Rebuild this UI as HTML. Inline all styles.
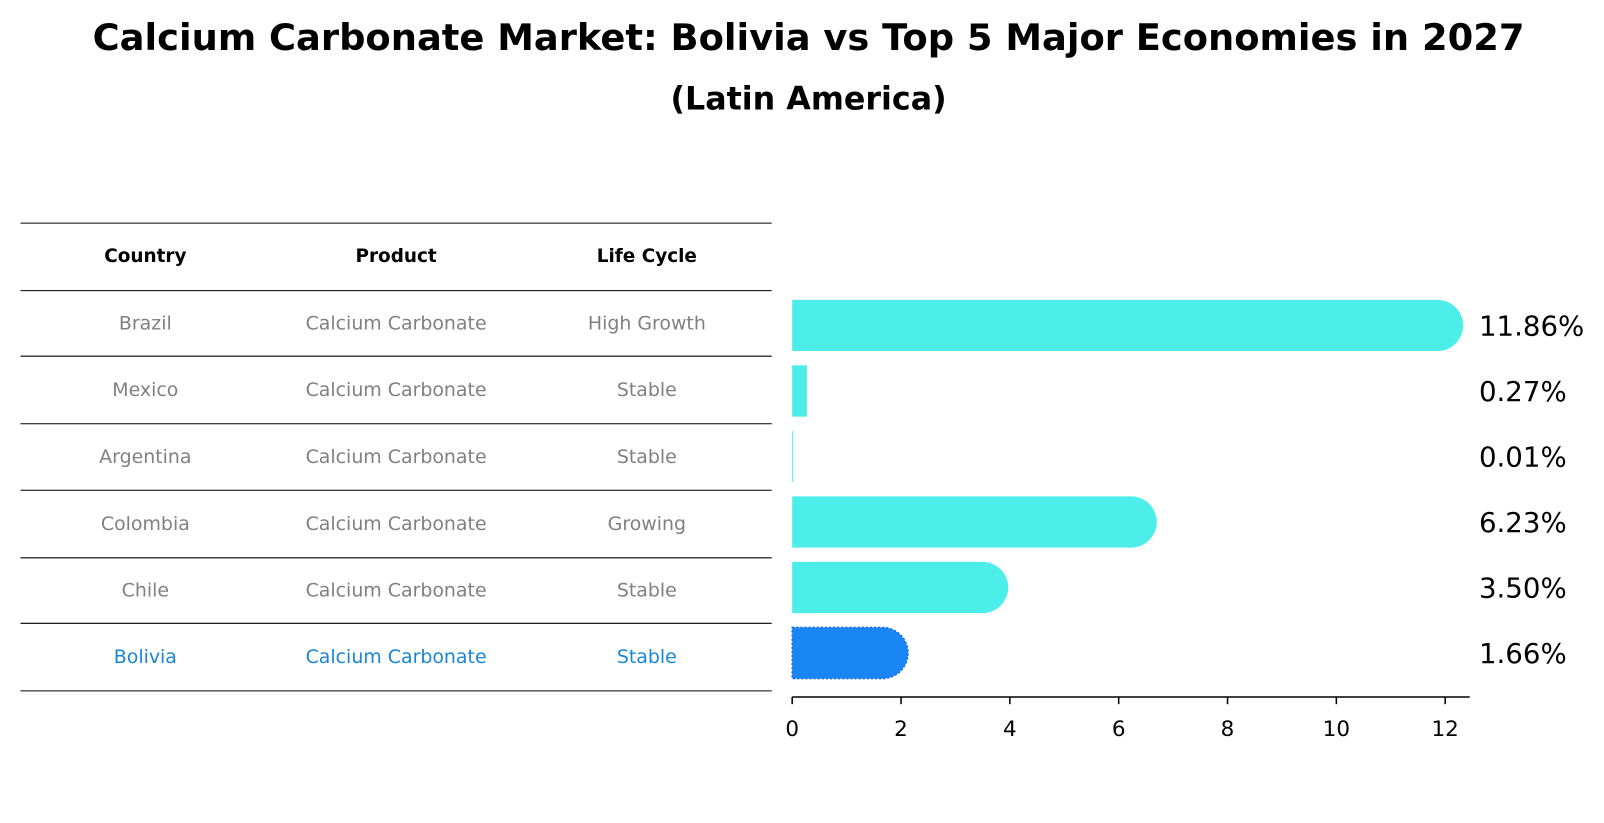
<!DOCTYPE html>
<html><head><meta charset="utf-8"><style>
body{margin:0;background:#fff;font-family:"Liberation Sans","DejaVu Sans",sans-serif}
#wrap{position:relative;width:1604px;height:823px;overflow:hidden}
</style></head><body>
<div id="wrap">
<svg id="svg" width="1604" height="823" font-family="DejaVu Sans, Liberation Sans, sans-serif">
<g transform="scale(1.0235)">
<text x="790" y="49" text-anchor="middle" font-size="36" font-weight="bold">Calcium Carbonate Market: Bolivia vs Top 5 Major Economies in 2027</text>
<text x="790" y="107" text-anchor="middle" font-size="31" font-weight="bold">(Latin America)</text>
<g id="table"></g>
<g id="bars"></g>
</g>
</svg>
</div>
<script>
const countries=["Brazil","Mexico","Argentina","Colombia","Chile","Bolivia"];
const products=["Calcium Carbonate","Calcium Carbonate","Calcium Carbonate","Calcium Carbonate","Calcium Carbonate","Calcium Carbonate"];
const lifeCycles=["High Growth","Stable","Stable","Growing","Stable","Stable"];
const values=[11.86,0.27,0.01,6.23,3.50,1.66];
const valueLabels=["11.86%","0.27%","0.01%","6.23%","3.50%","1.66%"];
const xTicks=[0,2,4,6,8,10,12];
const NS="http://www.w3.org/2000/svg";
function mk(tag,attrs,parent){const e=document.createElementNS(NS,tag);for(const k in attrs)e.setAttribute(k,attrs[k]);parent.appendChild(e);return e;}
const x=v=>774+v*(1412-774)/12;
const yc=i=>318+i*64;
const tbl=document.getElementById('table'),bars=document.getElementById('bars');
const lines=[218,284,348,414,479,545,609,675];
lines.forEach((ly,i)=>{const l=mk('line',{x1:20,x2:754,y1:ly,y2:ly,stroke:'#000','stroke-width':1},tbl);

});
const colX=[142,387,632];
["Country","Product","Life Cycle"].forEach((h,j)=>{const t=mk('text',{x:colX[j],y:256,'text-anchor':'middle','font-size':18,'font-weight':'bold'},tbl);t.textContent=h;

});
countries.forEach((c,i)=>{const col=i===5?'#1a85d6':'#808080';
[c,products[i],lifeCycles[i]].forEach((s,j)=>{const t=mk('text',{x:colX[j],y:(lines[i+1]+lines[i+2])/2+6,'text-anchor':'middle','font-size':18.5,fill:col},tbl);t.textContent=s;

});});
const h=50,r=25;
values.forEach((v,i)=>{const fill=i===5?'#1a85f5':'#4deeea';const x0=x(0),x1=x(v),top=yc(i)-h/2;
let d;
if(x1-x0>r){d=`M${x0},${top}H${x1}A${r},${r} 0 0 1 ${x1},${top+h}H${x0}Z`;}
else{d=`M${x0},${top}H${Math.max(x1,x0+1)}V${top+h}H${x0}Z`;}
const attrs={d:d,fill:fill};
if(i===5){attrs.stroke='#1a6fe0';attrs['stroke-dasharray']='2,2';attrs['stroke-width']=1.5;}
const p=mk('path',attrs,bars);


const t=mk('text',{x:1445,y:yc(i)+10,'font-size':27},bars);t.textContent=valueLabels[i];

});
const ax=mk('line',{x1:774,x2:1436,y1:681,y2:681,stroke:'#000','stroke-width':1.5},bars);


xTicks.forEach(v=>{const tk=mk('line',{x1:x(v),x2:x(v),y1:681,y2:688,stroke:'#000','stroke-width':1.5},bars);


const t=mk('text',{x:x(v),y:719,'text-anchor':'middle','font-size':21},bars);t.textContent=v;

});
</script>
</body></html>
